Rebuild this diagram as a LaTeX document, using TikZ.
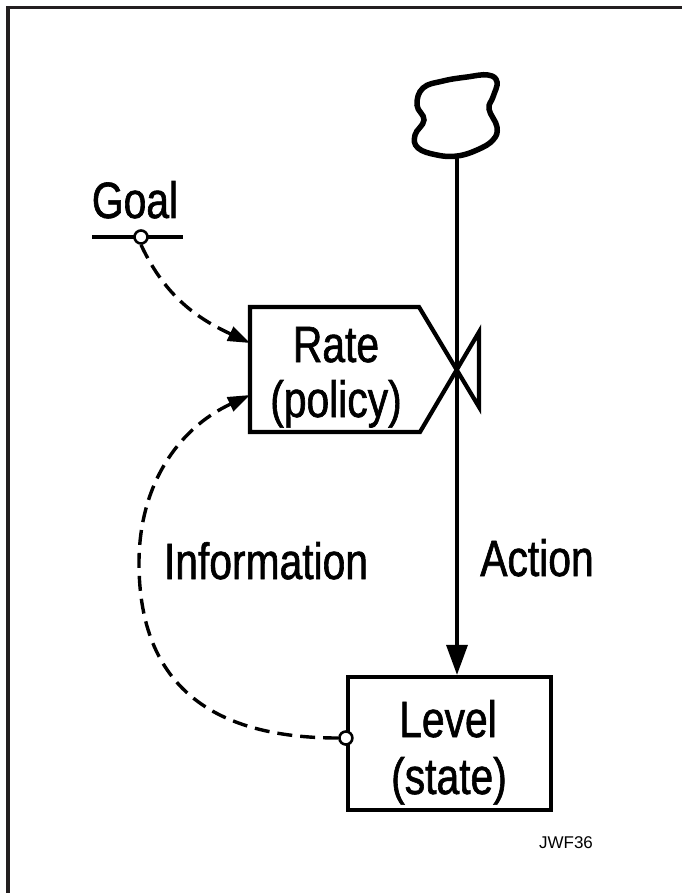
\documentclass[tikz,border=0pt]{standalone}
\usepackage{fontspec}
\newfontfamily\lett{Liberation Sans}[FakeStretch=0.8,FakeBold=1.2]
\newfontfamily\plain{Liberation Sans}
\usetikzlibrary{arrows.meta}
\begin{document}
\begin{tikzpicture}[x=1pt,y=-1pt,
  lett/.style={font=\lett\fontsize{51}{56}\selectfont, inner sep=0pt, anchor=base},
  boxline/.style={line width=4.2pt, line join=miter},
  flow/.style={line width=3.4pt, -{Triangle[length=30pt,width=21pt]}},
  info/.style={line width=3.4pt, dash pattern=on 15pt off 8pt, -{Triangle[length=22pt,width=15pt]}},
  tap/.style={circle, draw, fill=white, line width=2.6pt, minimum size=13pt, inner sep=0pt},
  frameline/.style={line width=3.3pt, draw={rgb,255:red,35;green,31;blue,32}}
]
\useasboundingbox (0,0) rectangle (682,893);
% frame
\draw[frameline] (8,893) -- (8,7.4) -- (682,7.4);

% cloud
\draw[line width=5.5pt] plot[smooth cycle, tension=0.7] coordinates {
 (423,88) (443,81) (467,77) (488,75) (497,82) (493,97) (489,109) (497,127)
 (493,140) (477,150) (457,156) (437,155) (418,148) (415,135) (424,120) (417,105)};
\coordinate (cloudb) at (457,156);

% rate box with valve
\coordinate (rtl) at (250,307);
\coordinate (rtr) at (419,307);
\coordinate (rbl) at (250,432);
\coordinate (rbr) at (420,432);
\coordinate (vt) at (479,332);
\coordinate (vb) at (479,407);
\draw[boxline] (rbr) -- (rbl) -- (rtl) -- (rtr) -- (vb) -- (vt) -- (rbr) -- cycle;
\node[lett] (ratet) at (336,362) {Rate};
\node[lett] (ratep) at (336,417) {(policy)};
\coordinate (rin1) at (250,343);
\coordinate (rin2) at (250,395);

% level box
\node[draw, boxline, minimum width=203pt, minimum height=133pt, inner sep=0pt] (level) at (449.5,743.5) {};
\node[lett] (levelt) at (448,737) {Level};
\node[lett] (levels) at (449,794) {(state)};

% action flow
\draw[flow] (cloudb) -- (cloudb |- level.north);
\node[lett] (action) at (537,576) {Action};

% goal
\node[lett] (goal) at (135,218) {Goal};
\coordinate (gl) at (92,237);
\coordinate (gr) at (183,237);
\draw[line width=3.2pt] (gl) -- (gr);
\node[tap] (goalc) at (141,237) {};
\draw[info] (goalc.south) to[out=-65,in=155] (rin1);

% information link
\node[tap] (levc) at (level.west |- 0,738) {};
\coordinate (infl) at (139,563);
\draw[info] (levc.west) to[out=180,in=-90,looseness=1.2] (infl) to[out=90,in=205] (rin2);
\node[lett] (info) at (266,579) {Information};

% label
\node[font=\plain\fontsize{17}{20}\selectfont, inner sep=0pt, anchor=base] (jwf) at (566,848) {JWF36};
\end{tikzpicture}
\end{document}
